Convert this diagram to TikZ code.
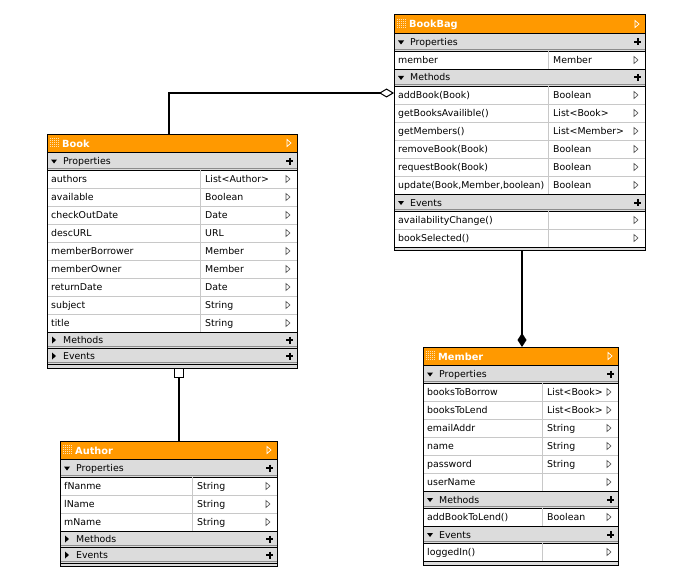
\documentclass[tikz,border=0pt]{standalone}
\usepackage{fontspec}
\setmainfont{DejaVu Sans}
\usetikzlibrary{arrows.meta,calc}
\definecolor{hdrc}{HTML}{FF9900}
\definecolor{barc}{HTML}{DCDCDC}
\definecolor{rowc}{HTML}{C8C8C8}
\tikzset{
  rowtext/.style={anchor=base west,inner sep=0pt,font=\fontsize{9.4}{10}\selectfont},
  titletext/.style={anchor=base west,inner sep=0pt,text=white,font=\fontsize{9.8}{10}\selectfont\bfseries},
  rowline/.style={draw=rowc,line width=0.8pt},
  rowtri/.style={draw=black!70,line width=0.6pt,line join=miter},
  conn/.style={line width=2pt},
  classbox/.style={draw,line width=1pt,inner sep=0pt,outer sep=0pt,anchor=north west}
}
\newcommand\UHdr[4]{%
  \fill[hdrc] (#1,#3) rectangle (#2,#3+18);
  \draw[black,line width=0.8pt] (#1,#3+18) -- (#2,#3+18);
  \foreach \i in {0,...,4}{\foreach \j in {0,...,4}{\fill[white!70!hdrc] (#1+3+2*\i,#3+4+2*\j) rectangle ++(1,1);}}
  \node[titletext] (h#1) at (#1+15,#3+13) {#4};
  \draw[white,line width=0.7pt,line join=miter] (#2-10,#3+5.5) -- ++(4,3.5) -- ++(-4,3.5) -- cycle;
}
\newcommand\UBar[6]{%
  \fill[barc] (#1,#3) rectangle (#2,#4);
  \draw[black!45,line width=0.8pt] (#1,#4-1.2) -- (#2,#4-1.2);
  \draw[black,line width=0.8pt] (#1,#3) -- (#2,#3);
  \draw[black,line width=0.8pt] (#1,#4) -- (#2,#4);
  \ifnum#6=1
    \fill (#1+4,{(#3+#4)/2-1.5}) -- ++(6,0) -- ++(-3,4) -- cycle;
  \else
    \fill (#1+5,{(#3+#4)/2-3.5}) -- ++(4,3.5) -- ++(-4,3.5) -- cycle;
  \fi
  \node[rowtext] (b#1-#3) at (#1+16,{(#3+#4)/2+3.5}) {#5};
  \draw[line width=2pt] (#2-11,{(#3+#4)/2}) -- ++(7,0) (#2-7.5,{(#3+#4)/2-3.5}) -- ++(0,7);
}
\newcommand\URow[6]{%
  \draw[rowline] (#1,#4+18) -- (#2,#4+18);
  \draw[rowline] (#3,#4) -- (#3,#4+18);
  \node[rowtext] (t#1-#4) at (#1+4,#4+12.5) {#5};
  \node[rowtext] (y#1-#4) at (#3+5,#4+12.5) {#6};
  \draw[rowtri] (#2-11,#4+5.5) -- ++(4,3.5) -- ++(-4,3.5) -- cycle;
}
\newcommand\UEnd[4]{%
  \fill[barc] (#1,#3) rectangle (#2,#4);
  \draw[black,line width=0.8pt] (#1,#3) -- (#2,#3);
}
\begin{document}
\begin{tikzpicture}[x=1pt,y=-1pt]
\useasboundingbox (0,0) rectangle (674,583);
% ---------------- BookBag
\UHdr{394}{645}{15}{BookBag}
\UBar{394}{645}{33}{51}{Properties}{1}
\URow{394}{645}{548}{51}{member}{Member}
\UBar{394}{645}{69}{86}{Methods}{1}
\URow{394}{645}{548}{86}{addBook(Book)}{Boolean}
\URow{394}{645}{548}{104}{getBooksAvailible()}{List<Book>}
\URow{394}{645}{548}{122}{getMembers()}{List<Member>}
\URow{394}{645}{548}{140}{removeBook(Book)}{Boolean}
\URow{394}{645}{548}{158}{requestBook(Book)}{Boolean}
\URow{394}{645}{548}{176}{update(Book,Member,boolean)}{Boolean}
\UBar{394}{645}{194}{211}{Events}{1}
\URow{394}{645}{548}{211}{availabilityChange()}{}
\URow{394}{645}{548}{229}{bookSelected()}{}
\UEnd{394}{645}{247}{250}
\node[classbox,minimum width=251pt,minimum height=235pt] (bookbag) at (394,15) {};
% ---------------- Book
\UHdr{47}{297}{134}{Book}
\UBar{47}{297}{152}{170}{Properties}{1}
\URow{47}{297}{200}{170}{authors}{List<Author>}
\URow{47}{297}{200}{188}{available}{Boolean}
\URow{47}{297}{200}{206}{checkOutDate}{Date}
\URow{47}{297}{200}{224}{descURL}{URL}
\URow{47}{297}{200}{242}{memberBorrower}{Member}
\URow{47}{297}{200}{260}{memberOwner}{Member}
\URow{47}{297}{200}{278}{returnDate}{Date}
\URow{47}{297}{200}{296}{subject}{String}
\URow{47}{297}{200}{314}{title}{String}
\UBar{47}{297}{332}{348}{Methods}{0}
\UBar{47}{297}{348}{364}{Events}{0}
\UEnd{47}{297}{364}{368}
\node[classbox,minimum width=250pt,minimum height=234pt] (book) at (47,134) {};
% ---------------- Author
\UHdr{60}{277}{441}{Author}
\UBar{60}{277}{459}{477}{Properties}{1}
\URow{60}{277}{192}{477}{fNanme}{String}
\URow{60}{277}{192}{495}{lName}{String}
\URow{60}{277}{192}{513}{mName}{String}
\UBar{60}{277}{531}{547}{Methods}{0}
\UBar{60}{277}{547}{563}{Events}{0}
\UEnd{60}{277}{563}{566}
\node[classbox,minimum width=217pt,minimum height=125pt] (author) at (60,441) {};
% ---------------- Member
\UHdr{423}{618}{347}{Member}
\UBar{423}{618}{365}{383}{Properties}{1}
\URow{423}{618}{542}{383}{booksToBorrow}{List<Book>}
\URow{423}{618}{542}{401}{booksToLend}{List<Book>}
\URow{423}{618}{542}{419}{emailAddr}{String}
\URow{423}{618}{542}{437}{name}{String}
\URow{423}{618}{542}{455}{password}{String}
\URow{423}{618}{542}{473}{userName}{}
\UBar{423}{618}{491}{508}{Methods}{1}
\URow{423}{618}{542}{508}{addBookToLend()}{Boolean}
\UBar{423}{618}{526}{543}{Events}{1}
\URow{423}{618}{542}{543}{loggedIn()}{}
\UEnd{423}{618}{561}{565}
\node[classbox,minimum width=195pt,minimum height=218pt] (member) at (423,347) {};
% ---------------- connectors
\draw[conn,-{Diamond[open,length=15pt,width=9pt,line width=1pt]}]
  ($(book.north west)+(122,0)$) |- ($(bookbag.north west)+(0,78)$);
\draw[conn,{Square[open,length=10pt,width=10pt,line width=1pt]}-]
  ($(book.south west)+(132,0)$) -- ($(author.north west)+(119,0)$);
\draw[conn,-{Diamond[length=14pt,width=9pt]}]
  ($(bookbag.south west)+(128,0)$) -- ($(member.north west)+(99,0)$);
\end{tikzpicture}
\end{document}
